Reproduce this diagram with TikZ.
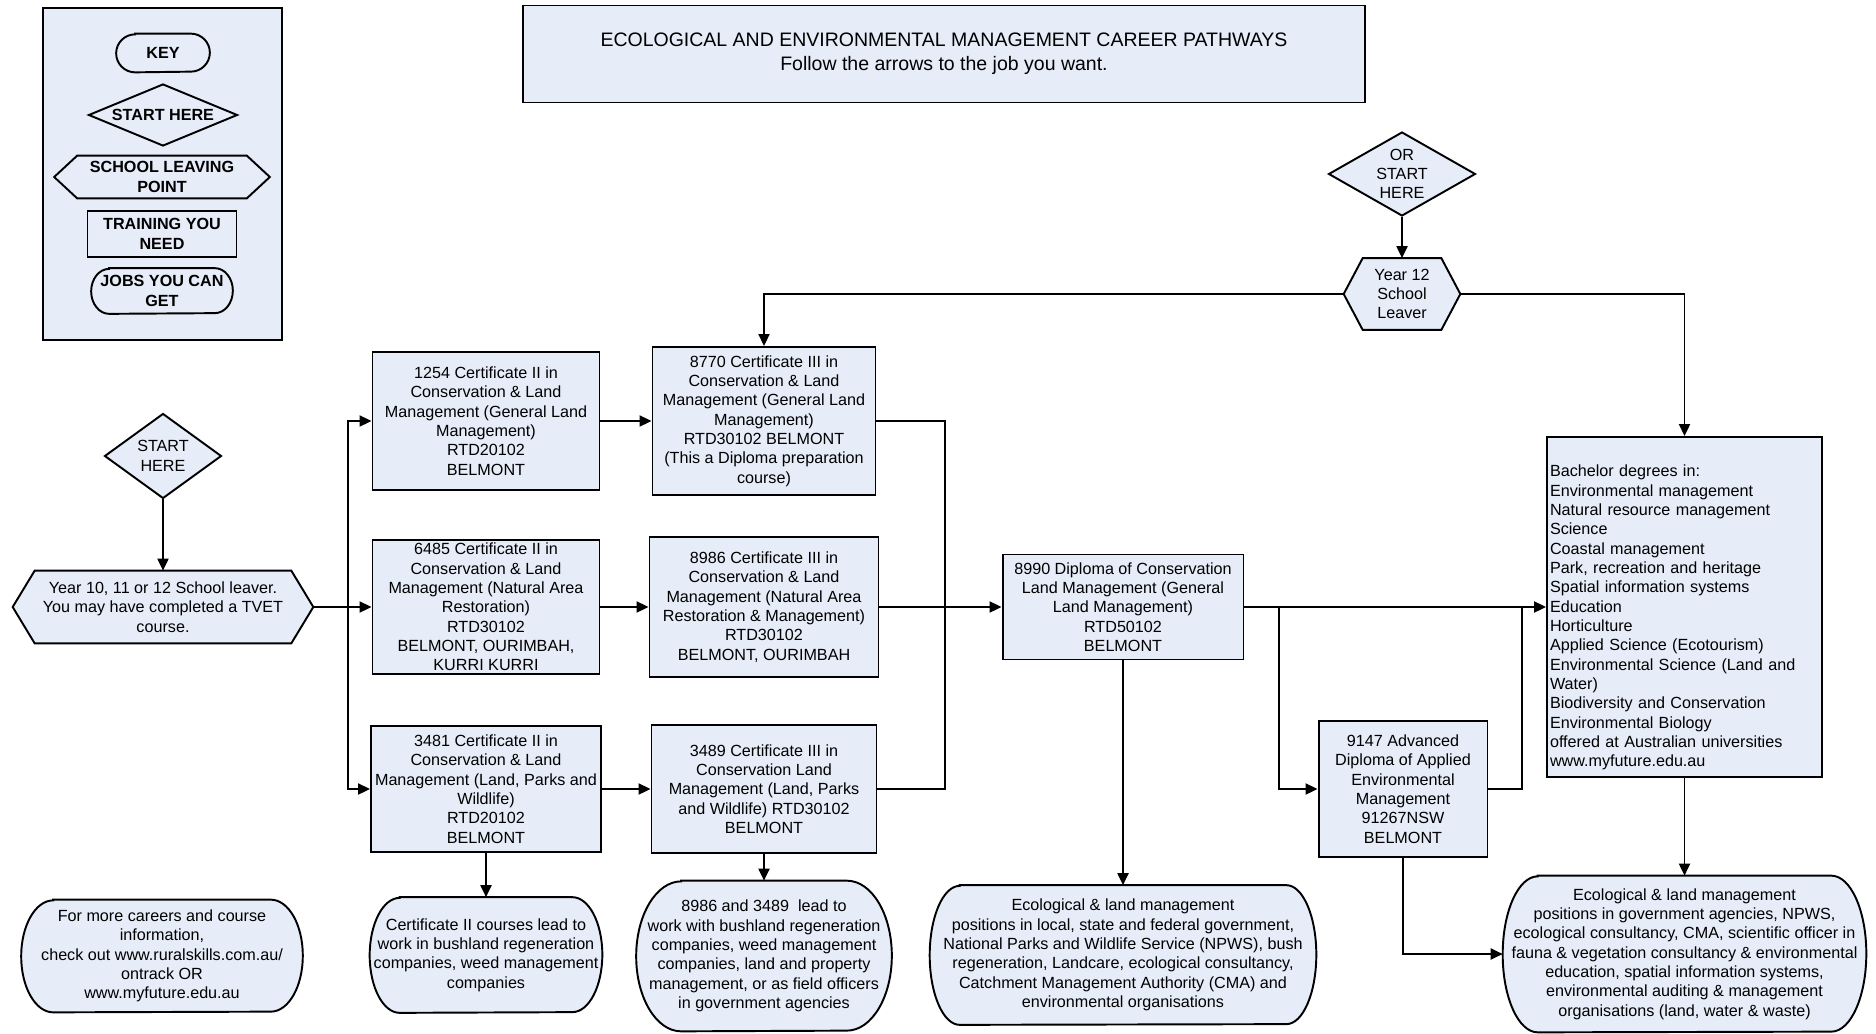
\documentclass[tikz,border=0pt]{standalone}
\usepackage{fontspec}
\setmainfont{Liberation Sans}
\usetikzlibrary{arrows.meta,shapes.geometric,backgrounds}
\definecolor{paleB}{RGB}{230,237,248}
\definecolor{inkK}{RGB}{0,0,0}

\begin{document}
\begin{tikzpicture}[x=0.02cm,y=-0.02cm,font=\fontsize{9.2}{11}\selectfont]
  \tikzset{shp/.style={draw=inkK,line width=1.1pt,fill=paleB},
    txt/.style 2 args={inner sep=0pt,align=center,minimum width=#1,minimum height=#2},
    crs/.style 2 args={shp,txt={#1}{#2}},
    dia/.style 2 args={shp,diamond,aspect=1.7,txt={#1}{#2}},
    arr/.style={-{Triangle[length=0.24cm,width=0.22cm]},line width=1.1pt,draw=inkK},
    keyfont/.style={font=\fontsize{9.2}{11}\selectfont\bfseries}}
  \useasboundingbox (0,0) rectangle (1876,1034);
  \node[crs={16.84cm}{1.94cm},font=\fontsize{11.1}{13.6}\selectfont] (title) at (944,54) {ECOLOGICAL AND ENVIRONMENTAL MANAGEMENT CAREER PATHWAYS\\Follow the arrows to the job you want.};
  \node[txt={1.86cm}{0.76cm},keyfont] (keyterm) at (163,53) {KEY};
  \node[dia={2.98cm}{1.24cm},aspect=2.4,keyfont] (keystart) at (163,115) {START HERE};
  \node[txt={4.30cm}{0.84cm},keyfont] (keyleave) at (162,177) {SCHOOL LEAVING\\POINT};
  \node[crs={2.98cm}{0.92cm},keyfont] (keytrain) at (162,234) {TRAINING YOU\\NEED};
  \node[txt={2.82cm}{0.90cm},keyfont] (keyjob) at (162,291) {JOBS YOU CAN\\GET};
  \node[dia={2.34cm}{1.70cm}] (start) at (163,456) {START\\HERE};
  \node[txt={6.00cm}{1.44cm}] (leave10) at (163,607) {Year 10, 11 or 12 School leaver.\\You may have completed a TVET\\course.};
  \node[dia={2.94cm}{1.68cm}] (orstart) at (1402,174) {OR\\START\\HERE};
  \node[txt={2.32cm}{1.42cm}] (y12) at (1402,294) {Year 12\\School\\Leaver};
  \node[crs={4.54cm}{2.76cm}] (c2a) at (486,421) {1254 Certificate II in\\Conservation \& Land\\Management (General Land\\Management)\\RTD20102\\BELMONT};
  \node[crs={4.54cm}{2.68cm}] (c2b) at (486,607) {6485 Certificate II in\\Conservation \& Land\\Management (Natural Area\\Restoration)\\RTD30102\\BELMONT, OURIMBAH,\\KURRI KURRI};
  \node[crs={4.60cm}{2.52cm}] (c2c) at (486,789) {3481 Certificate II in\\Conservation \& Land\\Management (Land, Parks and\\Wildlife)\\RTD20102\\BELMONT};
  \node[crs={4.46cm}{2.96cm}] (c3a) at (764,421) {8770 Certificate III in\\Conservation \& Land\\Management (General Land\\Management)\\RTD30102 BELMONT\\(This a Diploma preparation\\course)};
  \node[crs={4.58cm}{2.80cm}] (c3b) at (764,607) {8986 Certificate III in\\Conservation \& Land\\Management (Natural Area\\Restoration \& Management)\\RTD30102\\BELMONT, OURIMBAH};
  \node[crs={4.50cm}{2.56cm}] (c3c) at (764,789) {3489 Certificate III in\\Conservation Land\\Management (Land, Parks\\and Wildlife) RTD30102\\BELMONT};
  \node[crs={4.82cm}{2.10cm}] (dip) at (1123,607) {8990 Diploma of Conservation\\Land Management (General\\Land Management)\\RTD50102\\BELMONT};
  \node[crs={3.38cm}{2.72cm}] (adv) at (1403,789) {9147 Advanced\\Diploma of Applied\\Environmental\\Management\\91267NSW\\BELMONT};
  \node[crs={5.50cm}{6.80cm},align=left,text width=5.38cm] (bach) at (1684.5,607) {\strut\\Bachelor degrees in:\\Environmental management\\Natural resource management\\Science\\Coastal management\\Park, recreation and heritage\\Spatial information systems\\Education\\Horticulture\\Applied Science (Ecotourism)\\Environmental Science (Land and\\Water)\\Biodiversity and Conservation\\Environmental Biology\\offered at Australian universities\\www.myfuture.edu.au};
  \node[txt={5.62cm}{2.24cm}] (info) at (162,956) {For more careers and course\\information,\\check out www.ruralskills.com.au/\\ontrack OR\\www.myfuture.edu.au};
  \node[txt={4.64cm}{2.30cm}] (job2) at (486,955) {Certificate II courses lead to\\work in bushland regeneration\\companies, weed management\\companies};
  \node[txt={5.10cm}{3.00cm}] (job3) at (764,956) {8986 and 3489~ lead to\\work with bushland regeneration\\companies, weed management\\companies, land and property\\management, or as field officers\\in government agencies};
  \node[txt={7.72cm}{2.78cm}] (jobdip) at (1123,955) {Ecological \& land management\\positions in local, state and federal government,\\National Parks and Wildlife Service (NPWS), bush\\regeneration, Landcare, ecological consultancy,\\Catchment Management Authority (CMA) and\\environmental organisations};
  \node[txt={7.26cm}{3.12cm}] (jobbach) at (1684.5,954) {Ecological \& land management\\positions in government agencies, NPWS,\\ecological consultancy, CMA, scientific officer in\\fauna \& vegetation consultancy \& environmental\\education, spatial information systems,\\environmental auditing \& management\\organisations (land, water \& waste)};
  \begin{scope}[on background layer]
    \filldraw[shp] (43,8) rectangle (282,340);
    \foreach \n/\i in {keyleave/0.46cm,leave10/0.44cm,y12/0.38cm}
      \filldraw[shp] (\n.west) -- ([xshift=\i]\n.north west) -- ([xshift=-\i]\n.north east) -- (\n.east) -- ([xshift=-\i]\n.south east) -- ([xshift=\i]\n.south west) -- cycle;
    \foreach \n/\b/\h in {keyterm/0.38cm/0.38cm,keyjob/0.36cm/0.45cm,info/0.64cm/1.12cm,job2/0.6cm/1.15cm,job3/0.9cm/1.5cm,jobdip/0.6cm/1.39cm,jobbach/0.7cm/1.56cm}
      \filldraw[shp] ([xshift=\b]\n.north west) -- ([xshift=-\b]\n.north east) arc[start angle=90,end angle=-90,x radius=\b,y radius=\h] -- ([xshift=\b]\n.south west) arc[start angle=270,end angle=90,x radius=\b,y radius=\h] -- cycle;
  \end{scope}
  \coordinate (busL) at (348,607);
  \coordinate (busR) at (945,607);
  \coordinate (splitA) at (1279,607);
  \coordinate (joinB) at (1522,607);
  \foreach \a/\b in {start/leave10,orstart/y12,c2a/c3a,c2b/c3b,c2c/c3c,c3b/dip,dip/bach,c2c/job2,c3c/job3,dip/jobdip,bach/jobbach,leave10/c2b} {
    \draw[arr] (\a) -- (\b);
  }
  \draw[arr] (busL) |- (c2a);
  \draw[arr] (busL) |- (c2c);
  \draw[line width=1.1pt] (c3a) -| (busR) |- (c3c);
  \draw[arr] (splitA) |- (adv);
  \draw[line width=1.1pt] (adv) -| (joinB);
  \draw[arr] (y12) -| (c3a);
  \draw[arr] (y12) -| (bach);
  \draw[arr] (adv) |- (jobbach);
\end{tikzpicture}
\end{document}
